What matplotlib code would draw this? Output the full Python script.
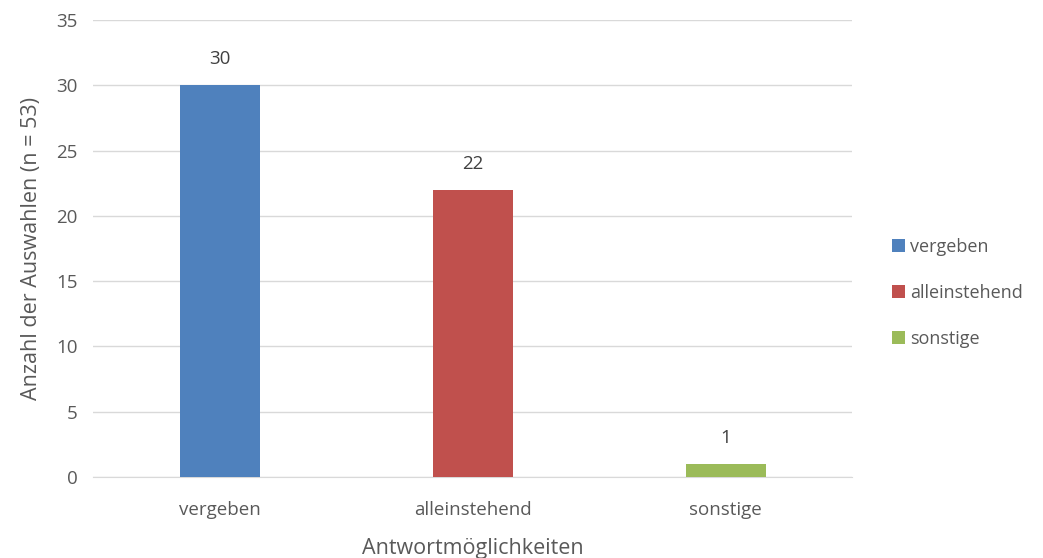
import matplotlib
matplotlib.use("Agg")
import matplotlib.pyplot as plt
from matplotlib.patches import Patch

categories = ["vergeben", "alleinstehend", "sonstige"]
counts = [30, 22, 1]
colors = ["#4F81BD", "#C0504D", "#9BBB59"]
y_ticks = [0, 5, 10, 15, 20, 25, 30, 35]

plt.rcParams["font.family"] = ["Open Sans", "DejaVu Sans"]
text_color = "#595959"

fig = plt.figure(figsize=(10.43, 5.58), dpi=100)
ax = fig.add_axes([0.0892, 0.1452, 0.7277, 0.819])

x = range(len(categories))
bars = ax.bar(x, counts, width=0.316, color=colors, zorder=3)
for xi, v in zip(x, counts):
    ax.text(xi, v + 1.3, str(v), ha="center", va="bottom",
            fontsize=13.5, color="#404040")

ax.set_xlim(-0.5, len(categories) - 0.5)
ax.set_ylim(0, 35)
ax.set_yticks(y_ticks)
ax.set_xticks(list(x))
ax.set_xticklabels(categories)
ax.tick_params(axis="both", length=0, labelsize=13.5, colors=text_color)
ax.tick_params(axis="y", pad=11)
ax.tick_params(axis="x", pad=17)

ax.grid(axis="y", color="#D9D9D9", linewidth=1, zorder=0)
for s in ["top", "right", "left"]:
    ax.spines[s].set_visible(False)
ax.spines["bottom"].set_color("#D9D9D9")

ax.set_xlabel("Antwortmöglichkeiten", fontsize=15.5, color=text_color, labelpad=14)
ax.set_ylabel("Anzahl der Auswahlen (n = 53)", fontsize=15.5, color=text_color, labelpad=10)

handles = [Patch(facecolor=c, label=l) for c, l in zip(colors, categories)]
fig.legend(handles=handles, loc="center left", bbox_to_anchor=(0.84, 0.475),
           frameon=False, fontsize=13, labelcolor=text_color,
           handlelength=0.7, handleheight=0.7, handletextpad=0.3,
           labelspacing=1.55)

fig.savefig("out.png", dpi=100)
